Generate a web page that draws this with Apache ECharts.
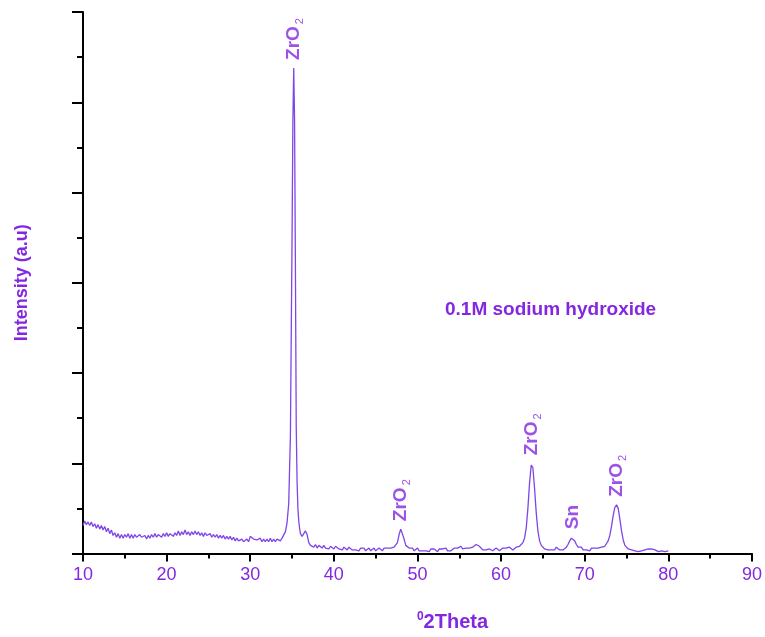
<!DOCTYPE html>
<html>
<head>
<meta charset="utf-8">
<script src="https://cdn.jsdelivr.net/npm/echarts@6/dist/echarts.min.js"></script>
<style>
  html, body { margin: 0; padding: 0; background: #fff; }
  #chart { width: 765px; height: 637px; }
</style>
</head>
<body>
<div id="chart"></div>
<script>
const textColor = '#8427e0';
const lineColor = '#7f45e6';

// 2-theta positions (degrees)
const twoTheta = [
  10.0, 10.2, 10.4, 10.6, 10.8, 11.0, 11.2, 11.4, 11.6, 11.8,
  12.0, 12.2, 12.4, 12.6, 12.8, 13.0, 13.2, 13.4, 13.6, 13.8,
  14.0, 14.2, 14.4, 14.6, 14.8, 15.0, 15.2, 15.4, 15.6, 15.8,
  16.0, 16.2, 16.4, 16.6, 16.8, 17.0, 17.2, 17.4, 17.6, 17.8,
  18.0, 18.2, 18.4, 18.6, 18.8, 19.0, 19.2, 19.4, 19.6, 19.8,
  20.0, 20.2, 20.4, 20.6, 20.8, 21.0, 21.2, 21.4, 21.6, 21.8,
  22.0, 22.2, 22.4, 22.6, 22.8, 23.0, 23.2, 23.4, 23.6, 23.8,
  24.0, 24.2, 24.4, 24.6, 24.8, 25.0, 25.2, 25.4, 25.6, 25.8,
  26.0, 26.2, 26.4, 26.6, 26.8, 27.0, 27.2, 27.4, 27.6, 27.8,
  28.0, 28.2, 28.4, 28.6, 28.8, 29.0, 29.2, 29.4, 29.6, 29.8,
  30.0, 30.2, 30.4, 30.6, 30.8, 31.0, 31.2, 31.4, 31.6, 31.8,
  32.0, 32.2, 32.4, 32.6, 32.8, 33.0, 33.2, 33.4, 33.6, 33.8,
  34.0, 34.2, 34.4, 34.6, 34.8, 35.0, 35.1, 35.2, 35.3, 35.4,
  35.5, 35.6, 35.7, 35.8, 35.9, 36.0, 36.2, 36.4, 36.6, 36.8,
  37.0, 37.2, 37.4, 37.6, 37.8, 38.0, 38.2, 38.4, 38.6, 38.8,
  39.0, 39.2, 39.4, 39.6, 39.8, 40.0, 40.2, 40.4, 40.6, 40.8,
  41.0, 41.2, 41.4, 41.6, 41.8, 42.0, 42.2, 42.4, 42.6, 42.8,
  43.0, 43.2, 43.4, 43.6, 43.8, 44.0, 44.2, 44.4, 44.6, 44.8,
  45.0, 45.2, 45.4, 45.6, 45.8, 46.0, 46.2, 46.4, 46.6, 46.8,
  47.0, 47.2, 47.4, 47.6, 47.8, 48.0, 48.2, 48.4, 48.6, 48.8,
  49.0, 49.2, 49.4, 49.6, 49.8, 50.0, 50.2, 50.4, 50.6, 50.8,
  51.0, 51.2, 51.4, 51.6, 51.8, 52.0, 52.2, 52.4, 52.6, 52.8,
  53.0, 53.2, 53.4, 53.6, 53.8, 54.0, 54.2, 54.4, 54.6, 54.8,
  55.0, 55.2, 55.4, 55.6, 55.8, 56.0, 56.2, 56.4, 56.6, 56.8,
  57.0, 57.2, 57.4, 57.6, 57.8, 58.0, 58.2, 58.4, 58.6, 58.8,
  59.0, 59.2, 59.4, 59.6, 59.8, 60.0, 60.2, 60.4, 60.6, 60.8,
  61.0, 61.2, 61.4, 61.6, 61.8, 62.0, 62.2, 62.4, 62.6, 62.8,
  63.0, 63.2, 63.4, 63.6, 63.7, 63.8, 64.0, 64.2, 64.4, 64.6,
  64.8, 65.0, 65.2, 65.4, 65.6, 65.8, 66.0, 66.2, 66.4, 66.6,
  66.8, 67.0, 67.2, 67.4, 67.6, 67.8, 68.0, 68.2, 68.4, 68.6,
  68.8, 69.0, 69.2, 69.4, 69.6, 69.8, 70.0, 70.2, 70.4, 70.6,
  70.8, 71.0, 71.2, 71.4, 71.6, 71.8, 72.0, 72.2, 72.4, 72.6,
  72.8, 73.0, 73.2, 73.4, 73.6, 73.8, 74.0, 74.2, 74.4, 74.6,
  74.8, 75.0, 75.2, 75.4, 75.6, 75.8, 76.0, 76.2, 76.4, 76.6,
  76.8, 77.0, 77.2, 77.4, 77.6, 77.8, 78.0, 78.2, 78.4, 78.6,
  78.8, 79.0, 79.2, 79.4, 79.6, 79.8, 80.0
];

// Intensity (arbitrary units)
const intensity = [
  0.31, 0.36, 0.32, 0.35, 0.31, 0.35, 0.30, 0.33, 0.28, 0.32,
  0.27, 0.31, 0.26, 0.30, 0.24, 0.28, 0.22, 0.26, 0.20, 0.23,
  0.18, 0.22, 0.17, 0.21, 0.17, 0.21, 0.18, 0.22, 0.17, 0.21,
  0.17, 0.21, 0.18, 0.16, 0.21, 0.18, 0.16, 0.20, 0.16, 0.20,
  0.17, 0.21, 0.18, 0.22, 0.18, 0.21, 0.22, 0.18, 0.22, 0.19,
  0.23, 0.19, 0.22, 0.24, 0.19, 0.23, 0.20, 0.25, 0.20, 0.24,
  0.21, 0.26, 0.21, 0.24, 0.20, 0.24, 0.21, 0.25, 0.21, 0.24,
  0.20, 0.23, 0.19, 0.23, 0.20, 0.19, 0.22, 0.18, 0.21, 0.18,
  0.21, 0.17, 0.20, 0.17, 0.20, 0.16, 0.19, 0.16, 0.19, 0.15,
  0.18, 0.14, 0.17, 0.14, 0.13, 0.16, 0.13, 0.12, 0.16, 0.13,
  0.19, 0.20, 0.16, 0.17, 0.15, 0.16, 0.17, 0.13, 0.16, 0.13,
  0.16, 0.13, 0.17, 0.13, 0.16, 0.13, 0.16, 0.15, 0.14, 0.17,
  0.19, 0.24, 0.34, 0.55, 1.30, 3.50, 4.80, 5.38, 4.80, 3.20,
  1.40, 0.80, 0.50, 0.36, 0.28, 0.22, 0.19, 0.22, 0.25, 0.21,
  0.12, 0.09, 0.11, 0.07, 0.10, 0.06, 0.09, 0.07, 0.06, 0.09,
  0.06, 0.08, 0.05, 0.08, 0.06, 0.05, 0.08, 0.07, 0.05, 0.07,
  0.04, 0.07, 0.05, 0.04, 0.07, 0.05, 0.04, 0.06, 0.04, 0.06,
  0.03, 0.06, 0.04, 0.06, 0.03, 0.05, 0.06, 0.03, 0.05, 0.06,
  0.03, 0.05, 0.06, 0.04, 0.03, 0.06, 0.04, 0.06, 0.04, 0.06,
  0.05, 0.07, 0.08, 0.12, 0.21, 0.27, 0.25, 0.16, 0.09, 0.07,
  0.06, 0.04, 0.06, 0.03, 0.05, 0.06, 0.03, 0.05, 0.03, 0.05,
  0.03, 0.05, 0.02, 0.05, 0.03, 0.05, 0.03, 0.02, 0.05, 0.03,
  0.05, 0.03, 0.06, 0.03, 0.05, 0.03, 0.05, 0.06, 0.04, 0.06,
  0.04, 0.08, 0.05, 0.04, 0.06, 0.04, 0.06, 0.04, 0.07, 0.08,
  0.10, 0.11, 0.08, 0.06, 0.04, 0.06, 0.04, 0.03, 0.05, 0.06,
  0.03, 0.05, 0.06, 0.04, 0.03, 0.05, 0.06, 0.04, 0.06, 0.04,
  0.07, 0.05, 0.04, 0.06, 0.07, 0.05, 0.08, 0.09, 0.12, 0.17,
  0.28, 0.50, 0.78, 0.98, 1.00, 0.95, 0.72, 0.45, 0.25, 0.14,
  0.09, 0.07, 0.05, 0.07, 0.04, 0.06, 0.04, 0.06, 0.04, 0.07,
  0.05, 0.04, 0.06, 0.04, 0.06, 0.07, 0.10, 0.14, 0.17, 0.18,
  0.14, 0.10, 0.07, 0.05, 0.07, 0.04, 0.06, 0.04, 0.06, 0.03,
  0.06, 0.04, 0.06, 0.04, 0.06, 0.04, 0.07, 0.06, 0.08, 0.10,
  0.14, 0.20, 0.30, 0.42, 0.51, 0.54, 0.50, 0.38, 0.25, 0.15,
  0.09, 0.07, 0.05, 0.06, 0.04, 0.05, 0.03, 0.04, 0.02, 0.04,
  0.03, 0.05, 0.04, 0.03, 0.05, 0.03, 0.05, 0.03, 0.04, 0.03,
  0.02, 0.04, 0.03, 0.04, 0.02, 0.04, 0.03
];

// Phase annotations above the peaks
const peakNames = ['ZrO2', 'ZrO2', 'ZrO2', 'Sn', 'ZrO2'];
const peakTheta = [35.2, 48.0, 63.7, 68.6, 73.8];
const peakTop = [5.38, 0.27, 1.00, 0.18, 0.54];

const chart = echarts.init(document.getElementById('chart'));

const lineData = twoTheta.map((t, i) => [t, intensity[i]]);
const peakData = peakNames.map((name, i) => ({ name: name, value: [peakTheta[i], peakTop[i]] }));

chart.setOption({
  animation: false,
  backgroundColor: '#fff',
  textStyle: { fontFamily: 'Liberation Sans, Arial, sans-serif' },
  grid: { left: 83, right: 13, top: 12, bottom: 82 },
  graphic: [
    {
      type: 'text',
      left: 445,
      top: 300,
      style: {
        text: '0.1M sodium hydroxide',
        fill: textColor,
        font: 'bold 19px "Liberation Sans", Arial, sans-serif'
      }
    }
  ],
  xAxis: {
    type: 'value',
    min: 10,
    max: 90,
    interval: 10,
    name: '{sup|0}{t|2Theta}',
    nameLocation: 'middle',
    nameGap: 57,
    nameTextStyle: {
      padding: [0, 0, 0, 70],
      rich: {
        sup: { fontSize: 12, fontWeight: 'bold', color: textColor, padding: [0, 0, 11, 0] },
        t: { fontSize: 20, fontWeight: 'bold', color: textColor }
      }
    },
    axisLine: { lineStyle: { color: '#000', width: 2 } },
    axisTick: { length: 8, lineStyle: { color: '#000', width: 2 } },
    minorTick: { show: true, splitNumber: 2, length: 5, lineStyle: { color: '#000', width: 2 } },
    axisLabel: { color: textColor, fontSize: 18, margin: 13 },
    splitLine: { show: false }
  },
  yAxis: {
    type: 'value',
    min: 0,
    max: 6,
    interval: 1,
    name: 'Intensity (a.u)',
    nameLocation: 'middle',
    nameGap: 52,
    nameTextStyle: { color: textColor, fontSize: 18, fontWeight: 'bold' },
    axisLine: { show: true, lineStyle: { color: '#000', width: 2 } },
    axisTick: { show: true, length: 11, lineStyle: { color: '#000', width: 2 } },
    minorTick: { show: true, splitNumber: 2, length: 6, lineStyle: { color: '#000', width: 2 } },
    axisLabel: { show: false },
    splitLine: { show: false }
  },
  series: [
    {
      type: 'line',
      data: lineData,
      showSymbol: false,
      lineStyle: { color: lineColor, width: 1.3 },
      z: 2
    },
    {
      type: 'scatter',
      data: peakData,
      symbolSize: 0,
      silent: true,
      label: {
        show: true,
        position: 'top',
        distance: 8,
        rotate: 90,
        align: 'left',
        verticalAlign: 'middle',
        formatter: (p) => p.name === 'ZrO2' ? '{a|ZrO}{s|2}' : '{a|Sn}',
        rich: {
          a: { fontSize: 19, fontWeight: 'bold', color: textColor },
          s: { fontSize: 11, color: textColor, verticalAlign: 'bottom', padding: [12, 0, 0, 2] }
        }
      },
      z: 3
    }
  ]
});
</script>
</body>
</html>
